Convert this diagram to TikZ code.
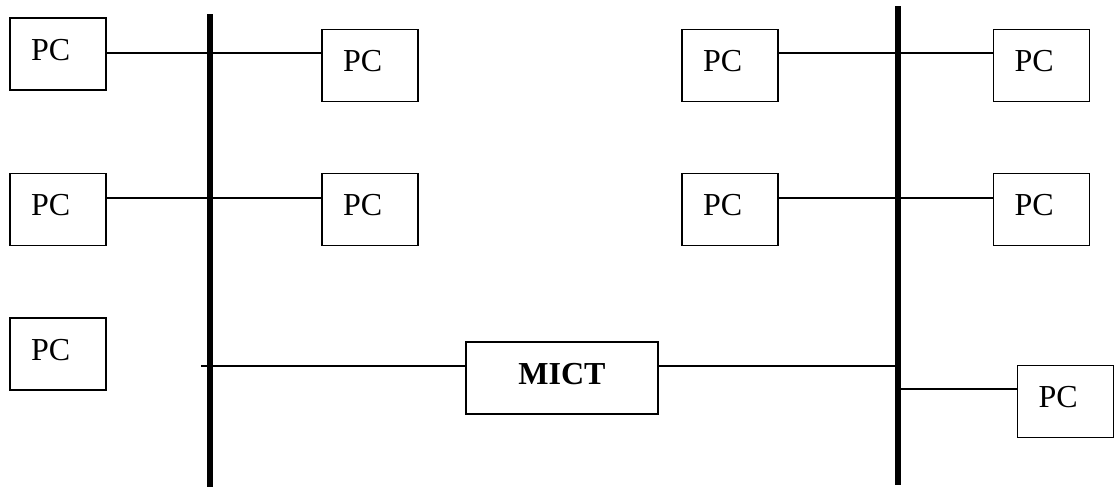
\documentclass[tikz,border=0pt]{standalone}
\usepackage{fontspec}
\setmainfont{Liberation Serif}
\usetikzlibrary{positioning, calc}

\tikzset{
  pc/.style={draw, line width=0.5pt, inner xsep=7.875pt, inner ysep=0pt,
    text width=20.25pt, align=left, text height=15.75pt, text depth=11.25pt,
    font=\fontsize{12}{14}\selectfont},
  mict/.style={pc, inner xsep=0pt, text width=72pt, align=center,
    font=\fontsize{12}{14}\selectfont\bfseries},
  wire/.style={line width=0.5pt},
  bus/.style={line width=1.9pt}
}

\begin{document}
\begin{tikzpicture}[x=0.375pt, y=-0.375pt]
      \useasboundingbox (0,0) rectangle (1114,489);
      % the two bus lines
      \coordinate (BL1) at (210,14);
      \coordinate (BL2) at (210,487);
      \coordinate (BR1) at (898,6);
      \coordinate (BR2) at (898,485);
      % heights of the taps
      \coordinate (row1) at (0,53);
      \coordinate (row2) at (0,198);
      \coordinate (row3) at (0,366);
      \coordinate (row4) at (0,389);
      \coordinate (tapL) at (201,366);
      \foreach \n/\x/\y in {L1/58/54, L2/58/209.5, L3/58/354, M1/370/65.5, M2/370/209.5,
                            R1/730/65.5, R2/730/209.5, F1/1041.5/65.5, F2/1041.5/209.5, F3/1065.5/401.5} {
        \node[pc] (\n) at (\x,\y){PC};
      }
      \node[mict] (MICT) at (562,378){MICT};
      % links to the bus
      \draw[wire] (L1.east |- row1) -- (M1.west |- row1);
      \draw[wire] (L2.east |- row2) -- (M2.west |- row2);
      \draw[wire] (R1.east |- row1) -- (F1.west |- row1);
      \draw[wire] (R2.east |- row2) -- (F2.west |- row2);
      \draw[wire] (tapL) -- (MICT.west |- row3);
      \draw[wire] (MICT.east |- row3) -- (BR1 |- row3);
      \draw[wire] (BR1 |- row4) -- (F3.west |- row4);
      \draw[bus] (BL1) -- (BL2);
      \draw[bus] (BR1) -- (BR2);
    \end{tikzpicture}
\end{document}
